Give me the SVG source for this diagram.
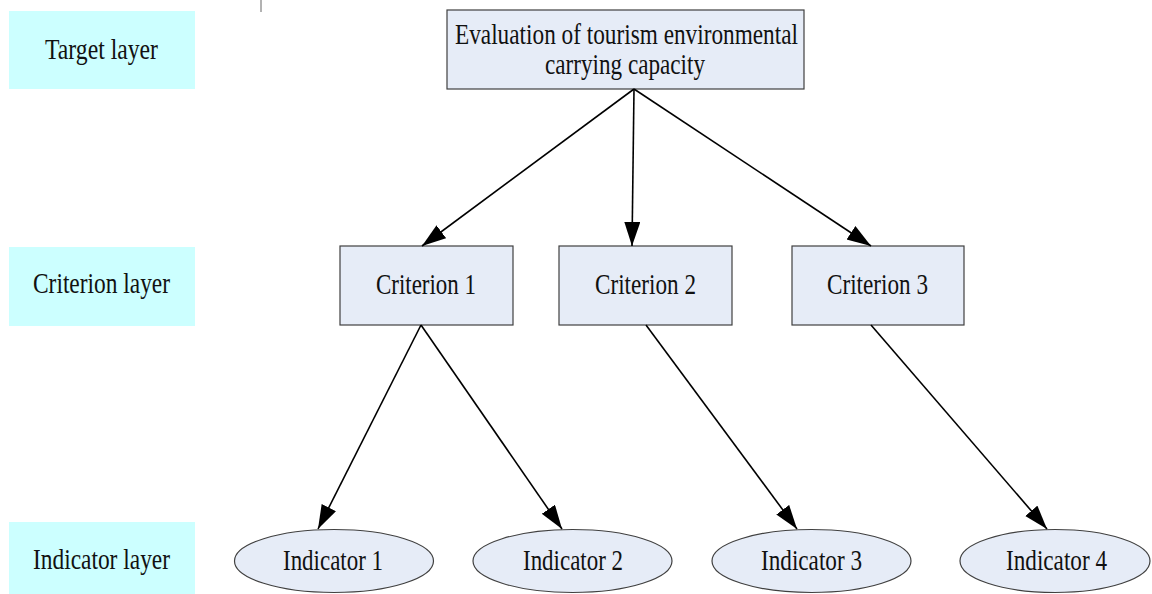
<svg xmlns="http://www.w3.org/2000/svg" width="1152" height="594" viewBox="0 0 1152 594">
<style>
.layer{fill:#ccffff;stroke:none}
.node{fill:#e6ecf7;stroke:#404040;stroke-width:1.2}
.t{font-family:"Liberation Serif","Times New Roman",serif;font-size:29px;fill:#111;text-anchor:middle}
.edge{stroke:#000;stroke-width:1.6;fill:none;marker-end:url(#ah)}
</style>
<defs>
<marker id="ah" markerUnits="userSpaceOnUse" markerWidth="26" markerHeight="18" refX="24" refY="8" orient="auto">
<path d="M0,0 L24,8 L0,16 z" fill="#000"/>
</marker>
</defs>
<rect x="0" y="0" width="1152" height="594" fill="#fff"/>
<line x1="261" y1="0" x2="261" y2="12" stroke="#666" stroke-width="1"/>
<g id="target-layer"><rect class="layer" x="9" y="11" width="186" height="78"/><text class="t" x="101.5" y="59" textLength="113" lengthAdjust="spacingAndGlyphs">Target layer</text></g>
<g id="criterion-layer"><rect class="layer" x="9" y="247" width="186" height="79"/><text class="t" x="101.5" y="293" textLength="137" lengthAdjust="spacingAndGlyphs">Criterion layer</text></g>
<g id="indicator-layer"><rect class="layer" x="9" y="522" width="186" height="72"/><text class="t" x="101.5" y="569" textLength="137" lengthAdjust="spacingAndGlyphs">Indicator layer</text></g>
<g id="goal"><rect class="node" x="447" y="10" width="357" height="79"/><text class="t" x="626.5" y="44" textLength="343" lengthAdjust="spacingAndGlyphs">Evaluation of tourism environmental</text><text class="t" x="625" y="74" textLength="160" lengthAdjust="spacingAndGlyphs">carrying capacity</text></g>
<g id="criterion1"><rect class="node" x="340" y="246" width="173" height="79"/><text class="t" x="426" y="294" textLength="100" lengthAdjust="spacingAndGlyphs">Criterion 1</text></g>
<g id="criterion2"><rect class="node" x="559" y="246" width="173" height="79"/><text class="t" x="645.5" y="294" textLength="101" lengthAdjust="spacingAndGlyphs">Criterion 2</text></g>
<g id="criterion3"><rect class="node" x="792" y="246" width="172" height="79"/><text class="t" x="877.5" y="294" textLength="101" lengthAdjust="spacingAndGlyphs">Criterion 3</text></g>
<g id="indicator1"><ellipse class="node" cx="334" cy="561" rx="99.5" ry="31.5"/><text class="t" x="333" y="570" textLength="100" lengthAdjust="spacingAndGlyphs">Indicator 1</text></g>
<g id="indicator2"><ellipse class="node" cx="572.5" cy="561" rx="99.5" ry="31.5"/><text class="t" x="573" y="570" textLength="100" lengthAdjust="spacingAndGlyphs">Indicator 2</text></g>
<g id="indicator3"><ellipse class="node" cx="811.5" cy="561" rx="99.5" ry="31.5"/><text class="t" x="811.5" y="570" textLength="101" lengthAdjust="spacingAndGlyphs">Indicator 3</text></g>
<g id="indicator4"><ellipse class="node" cx="1055" cy="561" rx="95" ry="31.5"/><text class="t" x="1056.5" y="570" textLength="101" lengthAdjust="spacingAndGlyphs">Indicator 4</text></g>
<g id="connectors">
<line class="edge" x1="634" y1="89" x2="422" y2="246"/>
<line class="edge" x1="634" y1="89" x2="632" y2="246"/>
<line class="edge" x1="634" y1="89" x2="871" y2="246"/>
<line class="edge" x1="421" y1="325" x2="318" y2="529"/>
<line class="edge" x1="421" y1="325" x2="562" y2="529"/>
<line class="edge" x1="646" y1="325" x2="797" y2="529"/>
<line class="edge" x1="871" y1="325" x2="1047" y2="529"/>
</g>
</svg>
